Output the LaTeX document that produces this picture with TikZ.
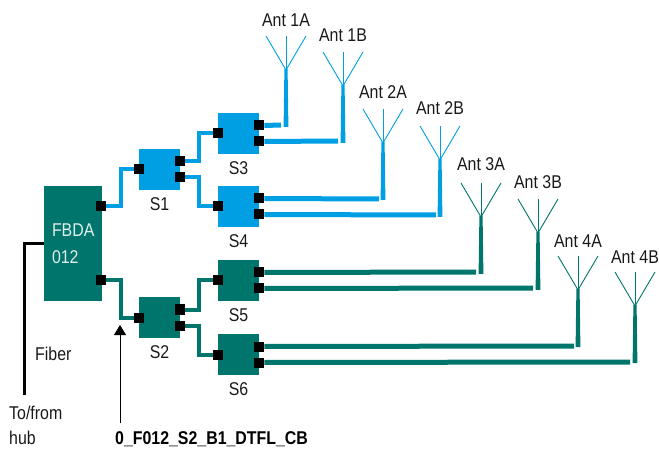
\documentclass[tikz,border=0pt]{standalone}
\usepackage{fontspec}
\setmainfont[FakeStretch=0.86]{Liberation Sans}
\usetikzlibrary{positioning, arrows.meta, calc}
\definecolor{antblue}{HTML}{009FE3}
\definecolor{antgreen}{HTML}{00756C}
\tikzset{
  block/.style = {rectangle, minimum width=41pt, minimum height=41pt, inner sep=0pt},
  hub/.style   = {rectangle, fill=antgreen, text=white!88!antgreen, align=left, text width=42pt,
                  minimum width=58pt, minimum height=115pt, inner xsep=8pt, inner ysep=0pt,
                  font=\fontsize{18.5}{27}\selectfont},
  port/.style  = {rectangle, fill=black, minimum size=10pt, inner sep=0pt},
  lab/.style   = {font=\fontsize{18.5}{27}\selectfont, inner sep=0pt, text=black!90},
  wire/.style  = {line width=4pt},
  feed/.style  = {line width=5pt},
  fiber/.style = {line width=3.5pt, black},
  pointer/.style = {line width=0.8pt, black, {Triangle[length=10pt, width=12pt]}-},
  antenna/.pic = {
    \fill (-2.4,0) -- (2.4,0) -- (1.6,-58) -- (-1.6,-58) -- cycle;
    \draw [line width=0.9pt] (-20,-91) -- (0,-57) -- (20,-91);
    \draw [line width=0.9pt] (0,-91) -- (0,-57);
  },
}
\begin{document}
\begin{tikzpicture}[x=1pt, y=-1pt]
\useasboundingbox (0,0) rectangle (659,449);

% Hub and switches
\node (fbda) [hub] at (73,243.5) {FBDA\\012};
\node (s1) [block, fill=antblue]  at (159.5,169.5) {};
\node (s2) [block, fill=antgreen] at (159.5,317.5) {};
\node (s3) [block, fill=antblue]  at (238.5,133.5) {};
\node (s4) [block, fill=antblue]  at (238.5,206.5) {};
\node (s5) [block, fill=antgreen] at (238.5,280.5) {};
\node (s6) [block, fill=antgreen] at (238.5,354.5) {};

% Switch names
\node (s1lab) [lab, below=7pt of s1] {S1};
\node (s2lab) [lab, below=7pt of s2] {S2};
\node (s3lab) [lab, below=7pt of s3] {S3};
\node (s4lab) [lab, below=7pt of s4] {S4};
\node (s5lab) [lab, below=7pt of s5] {S5};
\node (s6lab) [lab, below=7pt of s6] {S6};

% Ports
\node (f1) [port] at ($(fbda.east)+(-1,-37.5)$) {};
\node (f2) [port] at ($(fbda.east)+(-1,36.5)$) {};
\node (s1in) [port] at (s1.west) {};
\node (s1a) [port] at ($(s1.east)+(0,-8)$) {};
\node (s1b) [port] at ($(s1.east)+(0,8)$) {};
\node (s2in) [port] at (s2.west) {};
\node (s2a) [port] at ($(s2.east)+(0,-8)$) {};
\node (s2b) [port] at ($(s2.east)+(0,8)$) {};
\node (s3in) [port] at (s3.west) {};
\node (s3a) [port] at ($(s3.east)+(0,-8)$) {};
\node (s3b) [port] at ($(s3.east)+(0,8)$) {};
\node (s4in) [port] at (s4.west) {};
\node (s4a) [port] at ($(s4.east)+(0,-8)$) {};
\node (s4b) [port] at ($(s4.east)+(0,8)$) {};
\node (s5in) [port] at (s5.west) {};
\node (s5a) [port] at ($(s5.east)+(0,-8)$) {};
\node (s5b) [port] at ($(s5.east)+(0,8)$) {};
\node (s6in) [port] at (s6.west) {};
\node (s6a) [port] at ($(s6.east)+(0,-8)$) {};
\node (s6b) [port] at ($(s6.east)+(0,8)$) {};

% Antennas
\pic (a1a) [antblue]  at (286,127) {antenna};
\pic (a1b) [antblue]  at (343,143) {antenna};
\pic (a2a) [antblue]  at (383,200) {antenna};
\pic (a2b) [antblue]  at (440,217) {antenna};
\pic (a3a) [antgreen] at (481,274) {antenna};
\pic (a3b) [antgreen] at (538,290) {antenna};
\pic (a4a) [antgreen] at (578,347) {antenna};
\pic (a4b) [antgreen] at (635,363) {antenna};

% Antenna names
\node (l1a) [lab] at (286,20)  {Ant 1A};
\node (l1b) [lab] at (343,35)  {Ant 1B};
\node (l2a) [lab] at (383,92)  {Ant 2A};
\node (l2b) [lab] at (440,108) {Ant 2B};
\node (l3a) [lab] at (481,164) {Ant 3A};
\node (l3b) [lab] at (538,182) {Ant 3B};
\node (l4a) [lab] at (578,241) {Ant 4A};
\node (l4b) [lab] at (635,257) {Ant 4B};

% Wires between switches
\draw [wire, antblue]  (f1.east) -- ++(15,0) |- (s1in.west);
\draw [wire, antgreen] (f2.east) -- ++(15,0) |- (s2in.west);
\draw [wire, antblue]  (s1a.east) -- ++(14,0) |- (s3in.west);
\draw [wire, antblue]  (s1b.east) -- ++(14,0) |- (s4in.west);
\draw [wire, antgreen] (s2a.east) -- ++(14,0) |- (s5in.west);
\draw [wire, antgreen] (s2b.east) -- ++(14,0) |- (s6in.west);

% Feeds, each stops short of its mast
\coordinate (e1a) at (281,125);
\coordinate (e1b) at (338,141);
\coordinate (e2a) at (379,199);
\coordinate (e2b) at (436,215);
\coordinate (e3a) at (476,272);
\coordinate (e3b) at (533,288);
\coordinate (e4a) at (574,346);
\coordinate (e4b) at (630,362);
\draw [feed, antblue]  (s3a.east) -- (e1a);
\draw [feed, antblue]  (s3b.east) -- (e1b);
\draw [feed, antblue]  (s4a.east) -- (e2a);
\draw [feed, antblue]  (s4b.east) -- (e2b);
\draw [feed, antgreen] (s5a.east) -- (e3a);
\draw [feed, antgreen] (s5b.east) -- (e3b);
\draw [feed, antgreen] (s6a.east) -- (e4a);
\draw [feed, antgreen] (s6b.east) -- (e4b);

% Fiber to hub
\coordinate (fibend) at (24.5,395);
\draw [fiber] (fbda.west) -| (fibend);
\node (fiberlab) [lab, anchor=west] at (35,354) {Fiber};
\node (tolab) [lab, anchor=base west] at (9,419) {To/from};
\node (hublab) [lab, anchor=base west] at (9,444.5) {hub};

% Cable name
\node (cable) [lab, anchor=base west, text=black, font=\fontsize{18.5}{27}\selectfont\bfseries] at (115,444.5) {0\_F012\_S2\_B1\_DTFL\_CB};
\coordinate (tip) at (120,325);
\coordinate (tail) at (120,423);
\draw [pointer] (tip) -- (tail);

\end{tikzpicture}
\end{document}
